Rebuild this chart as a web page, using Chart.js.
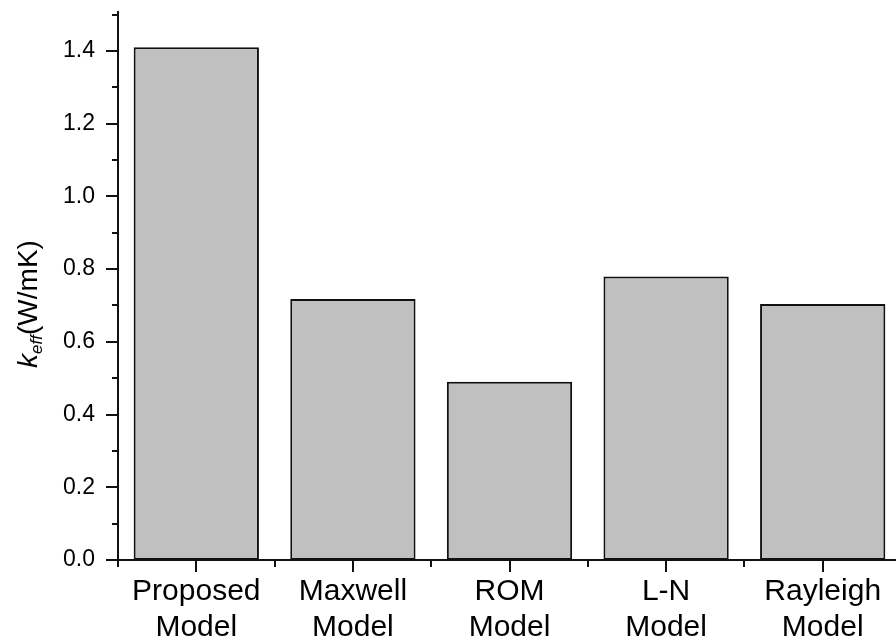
<!DOCTYPE html>
<html>
<head>
<meta charset="utf-8">
<title>Effective thermal conductivity by model</title>
<script src="https://cdn.jsdelivr.net/npm/chart.js@4/dist/chart.umd.min.js"></script>
<style>
  html, body { margin: 0; padding: 0; background: #fff; overflow: hidden; }
  #wrap { width: 901px; height: 643px; }
</style>
</head>
<body>
<div id="wrap"><canvas id="c" width="901" height="643"></canvas></div>
<script>
// Models compared and their effective thermal conductivity (W/mK)
const categories = [
  ['Proposed', 'Model'],
  ['Maxwell', 'Model'],
  ['ROM', 'Model'],
  ['L-N', 'Model'],
  ['Rayleigh', 'Model']
];
const keffValues = [1.41, 0.718, 0.49, 0.78, 0.704];

// Y axis: ticks every 0.1, labelled every 0.2
const yTickValues = [0, 0.1, 0.2, 0.3, 0.4, 0.5, 0.6, 0.7, 0.8, 0.9, 1.0, 1.1, 1.2, 1.3, 1.4, 1.5];
const yTickLabels = ['0.0', '', '0.2', '', '0.4', '', '0.6', '', '0.8', '', '1.0', '', '1.2', '', '1.4', ''];

const INK = '#111';

// Draws the axis lines, major/minor tick marks and the rotated y title
const axesPlugin = {
  id: 'originAxes',
  afterDatasetsDraw(chart) {
    const ctx = chart.ctx;
    const xs = chart.scales.x, ys = chart.scales.y;
    const left = chart.chartArea.left, right = chart.chartArea.right;
    const y0 = ys.getPixelForValue(0), yTop = chart.chartArea.top;
    ctx.save();
    ctx.strokeStyle = INK;
    ctx.lineWidth = 2;
    ctx.lineCap = 'butt';
    ctx.beginPath();
    // y axis
    ctx.moveTo(left, y0 + 1); ctx.lineTo(left, yTop);
    // x axis
    ctx.moveTo(left - 12, y0); ctx.lineTo(right, y0);
    // y ticks (outward, left)
    yTickValues.forEach((v, i) => {
      const y = Math.round(ys.getPixelForValue(v));
      const len = yTickLabels[i] ? 12 : 6;
      ctx.moveTo(left - len, y); ctx.lineTo(left, y);
    });
    // x major ticks at category centres, minor at boundaries
    categories.forEach((c, i) => {
      const x = Math.round(xs.getPixelForValue(i));
      ctx.moveTo(x, y0); ctx.lineTo(x, y0 + 12);
    });
    for (let i = 0; i <= categories.length; i++) {
      const x = Math.round(xs.getPixelForValue(i - 0.5));
      ctx.moveTo(x, y0); ctx.lineTo(x, y0 + 7);
    }
    ctx.stroke();

    // y title: k_eff (W/mK), rotated
    const big = 28, small = 17;
    const fBig = big + 'px "Liberation Sans", Arial, sans-serif';
    const fItal = 'italic ' + big + 'px "Liberation Sans", Arial, sans-serif';
    const fSub = 'italic ' + small + 'px "Liberation Sans", Arial, sans-serif';
    ctx.font = fItal; const wK = ctx.measureText('k').width;
    ctx.font = fSub; const wSub = ctx.measureText('eff').width;
    ctx.font = fBig; const wUnit = ctx.measureText('(W/mK)').width;
    const total = wK + wSub + wUnit;
    ctx.translate(37, 304);
    ctx.rotate(-Math.PI / 2);
    ctx.fillStyle = '#000';
    ctx.textBaseline = 'alphabetic';
    let x = -total / 2;
    ctx.font = fItal; ctx.fillText('k', x, 0); x += wK;
    ctx.font = fSub; ctx.fillText('eff', x, 5); x += wSub;
    ctx.font = fBig; ctx.fillText('(W/mK)', x, 0);
    ctx.restore();
  }
};

new Chart(document.getElementById('c'), {
  type: 'bar',
  data: {
    labels: categories,
    datasets: [{
      data: keffValues,
      backgroundColor: '#c0c0c0',
      borderColor: '#111',
      borderWidth: 2,
      borderSkipped: false,
      categoryPercentage: 1.0,
      barPercentage: 0.8
    }]
  },
  options: {
    responsive: false,
    animation: false,
    devicePixelRatio: 1,
    layout: { padding: { top: 11, right: 0, bottom: 0, left: 0 } },
    plugins: { legend: { display: false }, tooltip: { enabled: false } },
    scales: {
      x: {
        offset: true,
        grid: { display: false, drawTicks: false },
        border: { display: false },
        ticks: {
          color: '#000',
          padding: 14,
          maxRotation: 0,
          autoSkip: false,
          font: { family: '"Liberation Sans", Arial, sans-serif', size: 30, lineHeight: 1.2 }
        },
        afterFit(scale) {
          scale.height = 83;
          scale.paddingLeft = 0;
          scale.paddingRight = 0;
        }
      },
      y: {
        min: 0,
        max: 1.51,
        grid: { display: false, drawTicks: false },
        border: { display: false },
        afterBuildTicks(scale) {
          scale.ticks = yTickValues.map(v => ({ value: v }));
        },
        ticks: {
          color: '#000',
          padding: 23,
          autoSkip: false,
          font: { family: '"Liberation Sans", Arial, sans-serif', size: 23 },
          callback(value, index) { return yTickLabels[index]; }
        },
        afterFit(scale) {
          scale.width = 118;
          scale.paddingTop = 0;
          scale.paddingBottom = 0;
        }
      }
    }
  },
  plugins: [axesPlugin]
});
</script>
</body>
</html>
